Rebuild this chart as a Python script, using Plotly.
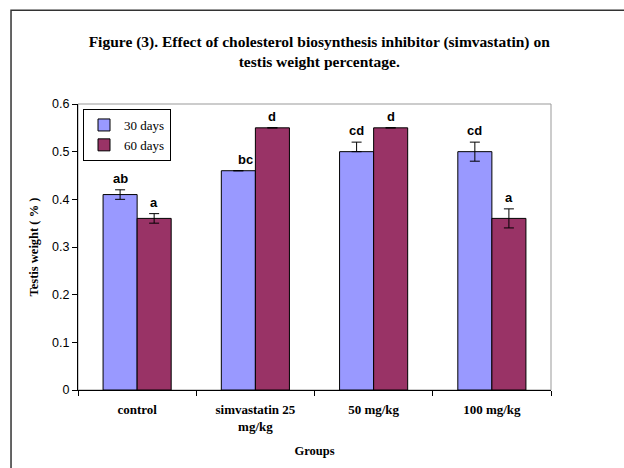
import plotly.graph_objects as go

categories = ["control", "simvastatin 25<br>mg/kg", "50 mg/kg", "100 mg/kg"]
series_names = ["30 days", "60 days"]
days30 = [0.41, 0.46, 0.50, 0.50]
days30_err_plus = [0.01, 0.0, 0.02, 0.02]
days30_err_minus = [0.01, 0.0, 0.0, 0.02]
days60 = [0.36, 0.55, 0.55, 0.36]
days60_err_plus = [0.01, 0.0, 0.0, 0.02]
days60_err_minus = [0.01, 0.0, 0.0, 0.02]
labels30 = ["ab", "bc", "cd", "cd"]
labels60 = ["a", "d", "d", "a"]
y_ticks = [0, 0.1, 0.2, 0.3, 0.4, 0.5, 0.6]

serif = "Liberation Serif, Times New Roman, serif"
sans = "Liberation Sans, Arial, sans-serif"

fig = go.Figure()
fig.add_trace(go.Bar(
    name=series_names[0], x=categories, y=days30,
    marker=dict(color="#9999FF", line=dict(color="black", width=1)),
    error_y=dict(type="data", array=days30_err_plus, arrayminus=days30_err_minus,
                 symmetric=False, color="black", thickness=1, width=5),
))
fig.add_trace(go.Bar(
    name=series_names[1], x=categories, y=days60,
    marker=dict(color="#993366", line=dict(color="black", width=1)),
    error_y=dict(type="data", array=days60_err_plus, arrayminus=days60_err_minus,
                 symmetric=False, color="black", thickness=1, width=5),
))

annotations = []
off = 0.144
for i, (v, e, t) in enumerate(zip(days30, days30_err_plus, labels30)):
    annotations.append(dict(x=i - off, y=v + e, xref="x", yref="y", text="<b>%s</b>" % t,
                            showarrow=False, yanchor="bottom", yshift=2,
                            xshift=7 if t == "bc" else 0,
                            font=dict(family=sans, size=13, color="black")))
for i, (v, e, t) in enumerate(zip(days60, days60_err_plus, labels60)):
    annotations.append(dict(x=i + off, y=v + e, xref="x", yref="y", text="<b>%s</b>" % t,
                            showarrow=False, yanchor="bottom", yshift=2,
                            font=dict(family=sans, size=13, color="black")))

shapes = [
    dict(type="rect", xref="paper", yref="paper", x0=0, y0=0, x1=1, y1=1,
         line=dict(color="#999999", width=1), layer="below"),
    dict(type="rect", xref="paper", yref="paper", x0=-0.1416, y0=-0.32, x1=1.2, y1=1.3275,
         line=dict(color="#333333", width=1.5), layer="below"),
]

fig.update_layout(
    width=624, height=468,
    margin=dict(l=78, r=73, t=104, b=78, autoexpand=False),
    paper_bgcolor="white", plot_bgcolor="white",
    barmode="group", bargap=0.424, bargroupgap=0,
    title=dict(text="<b>Figure (3). Effect of cholesterol biosynthesis inhibitor (simvastatin) on<br>testis weight percentage.</b>",
               x=0.51, xanchor="center", xref="paper", y=0.9, yanchor="middle",
               font=dict(family=serif, size=15.5, color="black")),
    legend=dict(x=0.0106, y=0.9825, xanchor="left", yanchor="top",
                bordercolor="black", borderwidth=1, bgcolor="white",
                font=dict(family=serif, size=13, color="black"),
                tracegroupgap=4, itemwidth=30),
    annotations=annotations,
    shapes=shapes,
    showlegend=True,
)
fig.update_xaxes(
    showline=True, linecolor="black", linewidth=1,
    ticks="outside", ticklen=5, tickcolor="black", tickson="boundaries",
    tickfont=dict(family=serif, size=13, color="black", weight="bold"),
    ticklabelstandoff=7,
    title=dict(text="<b>Groups</b>", font=dict(family=serif, size=12.5, color="black"), standoff=13),
    showgrid=False, automargin=False,
)
fig.update_yaxes(
    range=[0, 0.6], tickvals=y_ticks, ticktext=[str(v) for v in y_ticks],
    showline=True, linecolor="black", linewidth=1,
    ticks="outside", ticklen=5, tickcolor="black",
    tickfont=dict(family=sans, size=12.5, color="black"),
    title=dict(text="<b>Testis weight ( % )</b>", font=dict(family=serif, size=12.5, color="black"), standoff=10),
    showgrid=False, zeroline=False, automargin=False,
)

fig.write_html("out.html", config={"displayModeBar": False},
               post_script="document.body.style.margin='0px';")
